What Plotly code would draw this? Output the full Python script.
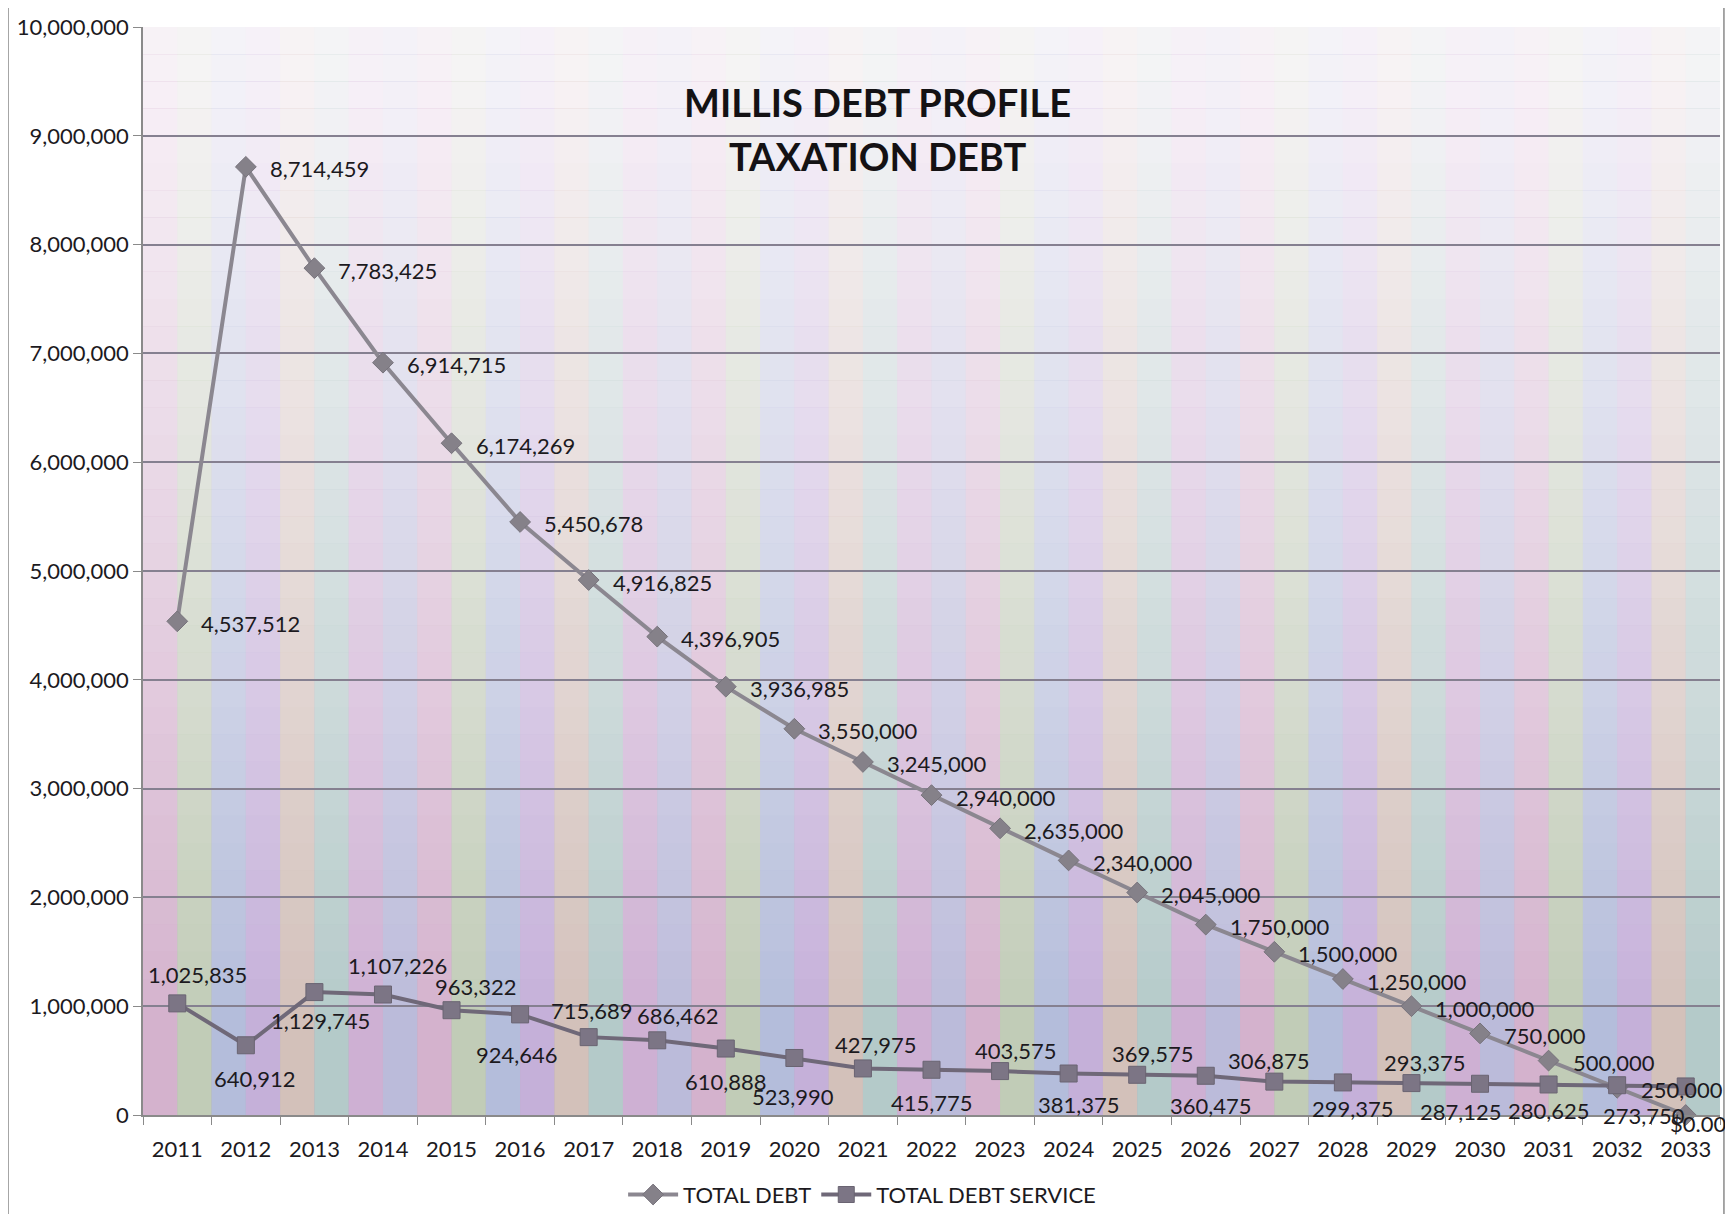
import plotly.graph_objects as go

# ---------------- data ----------------
years = list(range(2011, 2034))

total_debt = [4537512, 8714459, 7783425, 6914715, 6174269, 5450678, 4916825,
              4396905, 3936985, 3550000, 3245000, 2940000, 2635000, 2340000,
              2045000, 1750000, 1500000, 1250000, 1000000, 750000, 500000,
              250000, 0]

total_debt_service = [1025835, 640912, 1129745, 1107226, 963322, 924646, 715689,
                      686462, 610888, 523990, 427975, 415775, 403575, 381375,
                      369575, 360475, 306875, 299375, 293375, 287125, 280625,
                      273750, 262500]

series_names = ["TOTAL DEBT", "TOTAL DEBT SERVICE"]
title_lines = ["MILLIS DEBT PROFILE", "TAXATION DEBT"]

# ---------------- label styling (placement only) ----------------
def fmt(v):
    return "$0.00" if v == 0 else f"{v:,}"

# debt-service label nudges in px (dy > 0 above the marker, < 0 below; None = hidden)
service_dx = [20, 9, 6, 15, 24, -3, 3, 21, 0, -1, 13, 0, 16, 10, 16, 5, -5, 10, 14, -19, 0, 27, 0]
service_dy = [29, -33, -28, 29, 24, -40, 27, 25, -33, -39, 24, -33, 21, -31, 21, -30, 21, -26,
              21, -28, -26, -30, None]

FONT = "Lato, 'Open Sans', sans-serif"
TXT = "#1c1a1e"
LABEL_SIZE = 22

fig = go.Figure()

fig.add_trace(go.Scatter(
    x=years, y=total_debt, name=series_names[0], mode="lines+markers",
    line=dict(color="#8b8790", width=4),
    marker=dict(symbol="diamond", size=16, color="#858189",
                line=dict(color="#77737c", width=1)),
    cliponaxis=False,
))

fig.add_trace(go.Scatter(
    x=years, y=total_debt_service, name=series_names[1], mode="lines+markers",
    line=dict(color="#6f6878", width=4),
    marker=dict(symbol="square", size=17, color="#7c7585",
                line=dict(color="#6a6472", width=1)),
    cliponaxis=False,
))

annotations = []
for i, (yr, v) in enumerate(zip(years, total_debt)):
    last = (i == len(years) - 1)
    annotations.append(dict(
        x=yr, y=v, xref="x", yref="y", text=fmt(v), showarrow=False,
        xanchor="center" if last else "left", yanchor="middle",
        xshift=12 if last else 22, yshift=-8 if last else -2,
        font=dict(family=FONT, size=LABEL_SIZE, color=TXT)))

for yr, v, dx, dy in zip(years, total_debt_service, service_dx, service_dy):
    if dy is None:
        continue
    annotations.append(dict(
        x=yr, y=v, xref="x", yref="y", text=fmt(v), showarrow=False,
        xanchor="center", yanchor="middle", xshift=dx, yshift=dy,
        font=dict(family=FONT, size=LABEL_SIZE, color=TXT)))

annotations += [
    dict(text=f"<b>{title_lines[0]}</b>", xref="paper", yref="paper",
         x=0.466, y=0.931, xanchor="center", yanchor="middle", showarrow=False,
         font=dict(family=FONT, size=38, color="#141214")),
    dict(text=f"<b>{title_lines[1]}</b>", xref="paper", yref="paper",
         x=0.466, y=0.881, xanchor="center", yanchor="middle", showarrow=False,
         font=dict(family=FONT, size=38, color="#141214")),
]

# ---------------- background (scan-like pastel wash) ----------------
shapes = []
stripe_cols = ["#f2bfdc", "#d2ebb8", "#bcd2f4", "#d8bcf0", "#f0d8bc", "#bce8d6",
               "#e8bce6", "#c8cef2"]
n_stripes = 46
for i in range(n_stripes):
    shapes.append(dict(type="rect", xref="x domain", yref="y domain",
                       x0=i / n_stripes, x1=(i + 1) / n_stripes, y0=0, y1=1,
                       fillcolor=stripe_cols[i % len(stripe_cols)], opacity=0.6,
                       line=dict(width=0), layer="below"))
n_bands = 40
for j in range(n_bands):
    t = (j + 0.5) / n_bands          # 0 bottom -> 1 top
    base = max(0.0, t - 0.08)
    op = max(0.0, min(0.9, (base ** 0.9) * 1.0))
    shapes.append(dict(type="rect", xref="x domain", yref="y domain",
                       x0=0, x1=1, y0=j / n_bands, y1=(j + 1) / n_bands,
                       fillcolor="#fbf8fb", opacity=op,
                       line=dict(width=0), layer="below"))
# chart-area border lines
for xp in (-0.0856, 1.0025):
    shapes.append(dict(type="line", xref="paper", yref="paper",
                       x0=xp, x1=xp, y0=-0.095, y1=1.02,
                       line=dict(color="#8a8a8a", width=1.5)))

# The page adds an 8px body margin, so the figure is sized to fit inside the window.
fig.update_layout(
    width=1717, height=1206, autosize=False,
    margin=dict(l=135, r=5, t=14, b=99),
    paper_bgcolor="white", plot_bgcolor="#a99fb6",
    font=dict(family=FONT, color=TXT),
    shapes=shapes, annotations=annotations,
    showlegend=True,
    legend=dict(orientation="h", x=0.456, xanchor="center",
                yref="container", y=0.016, yanchor="middle",
                font=dict(family=FONT, size=22, color=TXT),
                bgcolor="rgba(0,0,0,0)", itemwidth=50, tracegroupgap=0),
)

fig.update_xaxes(
    range=[years[0] - 0.5, years[-1] + 0.5], tickmode="array", tickvals=years,
    ticktext=[str(y) for y in years], ticks="", ticklabelstandoff=14, showline=True,
    linecolor="#8a8a8a", linewidth=1.5, showgrid=False, zeroline=False,
    minor=dict(tickmode="linear", tick0=years[0] - 0.5, dtick=1, ticks="outside",
               ticklen=8, tickcolor="#8a8a8a", showgrid=False),
    tickfont=dict(family=FONT, size=22, color=TXT),
)
fig.update_yaxes(
    range=[0, 10000000], dtick=1000000, tickformat=",",
    ticks="outside", ticklen=8, tickcolor="#8a8a8a",
    showline=True, linecolor="#8a8a8a", linewidth=1.5,
    showgrid=True, gridcolor="#858090", gridwidth=1.5, zeroline=False,
    ticklabeloverflow="allow",
    tickfont=dict(family=FONT, size=22, color=TXT),
)

fig.write_html("out.html")
